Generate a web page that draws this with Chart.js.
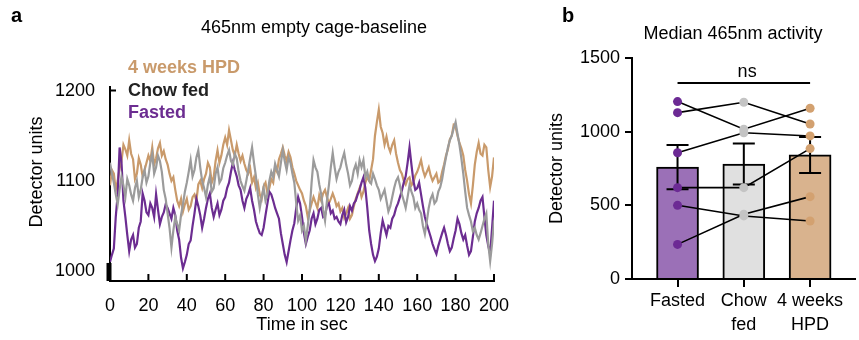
<!DOCTYPE html>
<html>
<head>
<meta charset="utf-8">
<script src="https://cdn.jsdelivr.net/npm/chart.js@4.4.1/dist/chart.umd.min.js"></script>
<style>
  html, body { margin: 0; padding: 0; background: #fff; }
  #wrap { position: relative; width: 859px; height: 340px; overflow: hidden; }
  #left { position: absolute; left: 0; top: 0; width: 530px; height: 340px; }
  #right { position: absolute; left: 530px; top: 0; width: 329px; height: 340px; }
</style>
</head>
<body>
<div id="wrap">
  <canvas id="left" width="530" height="340"></canvas>
  <canvas id="right" width="329" height="340"></canvas>
</div>
<script>
const FONT = "'Liberation Sans', Arial, sans-serif";
Chart.defaults.font.family = FONT;
Chart.defaults.font.size = 18;
Chart.defaults.color = "#000";

// ---- panel a: traces, one value per second ----
const timeSec = [
  0, 1, 2, 3, 4, 5, 6, 7, 8, 9, 10, 11, 12, 13, 14, 15, 16, 17, 18, 19,
  20, 21, 22, 23, 24, 25, 26, 27, 28, 29, 30, 31, 32, 33, 34, 35, 36, 37, 38, 39,
  40, 41, 42, 43, 44, 45, 46, 47, 48, 49, 50, 51, 52, 53, 54, 55, 56, 57, 58, 59,
  60, 61, 62, 63, 64, 65, 66, 67, 68, 69, 70, 71, 72, 73, 74, 75, 76, 77, 78, 79,
  80, 81, 82, 83, 84, 85, 86, 87, 88, 89, 90, 91, 92, 93, 94, 95, 96, 97, 98, 99,
  100, 101, 102, 103, 104, 105, 106, 107, 108, 109, 110, 111, 112, 113, 114, 115, 116, 117, 118, 119,
  120, 121, 122, 123, 124, 125, 126, 127, 128, 129, 130, 131, 132, 133, 134, 135, 136, 137, 138, 139,
  140, 141, 142, 143, 144, 145, 146, 147, 148, 149, 150, 151, 152, 153, 154, 155, 156, 157, 158, 159,
  160, 161, 162, 163, 164, 165, 166, 167, 168, 169, 170, 171, 172, 173, 174, 175, 176, 177, 178, 179,
  180, 181, 182, 183, 184, 185, 186, 187, 188, 189, 190, 191, 192, 193, 194, 195, 196, 197, 198, 199, 200
];
const hpd = [
  1095, 1112, 1108, 1090, 1100, 1114, 1122, 1140, 1135, 1128, 1145, 1130, 1124, 1102, 1108, 1125, 1118, 1105, 1112, 1120,
  1128, 1122, 1137, 1118, 1125, 1136, 1142, 1128, 1133, 1124, 1118, 1108, 1100, 1104, 1090, 1078, 1072, 1080, 1066, 1074,
  1080, 1068, 1072, 1082, 1085, 1078, 1096, 1100, 1092, 1102, 1108, 1120, 1115, 1098, 1104, 1122, 1134, 1120, 1128, 1140,
  1148, 1140, 1156, 1145, 1134, 1128, 1140, 1130, 1122, 1128, 1119, 1112, 1108, 1114, 1098, 1104, 1092, 1098, 1085, 1080,
  1094, 1098, 1086, 1092, 1102, 1098, 1115, 1110, 1124, 1130, 1137, 1128, 1122, 1132, 1126, 1115, 1108, 1100, 1095, 1090,
  1086, 1078, 1072, 1060, 1067, 1075, 1082, 1076, 1070, 1084, 1078, 1086, 1090, 1082, 1075, 1080, 1086, 1080, 1072, 1075,
  1066, 1070, 1059, 1064, 1070, 1058, 1062, 1072, 1080, 1086, 1092, 1082, 1088, 1098, 1104, 1100, 1112, 1124, 1150, 1165,
  1179, 1160, 1153, 1140, 1149, 1138, 1132, 1140, 1145, 1130, 1120, 1112, 1108, 1100, 1096, 1102, 1104, 1095, 1098, 1106,
  1110, 1116, 1123, 1112, 1105, 1110, 1115, 1106, 1100, 1104, 1108, 1098, 1100, 1110, 1118, 1128, 1135, 1146, 1150, 1162,
  1160, 1150, 1142, 1136, 1128, 1112, 1100, 1085, 1075, 1095, 1118, 1132, 1142, 1130, 1128, 1140, 1137, 1112, 1093, 1105, 1126
];
const chowFed = [
  1120, 1108, 1098, 1085, 1074, 1090, 1105, 1095, 1082, 1102, 1095, 1085, 1078, 1092, 1100, 1082, 1090, 1104, 1112, 1098,
  1105, 1120, 1130, 1108, 1115, 1128, 1122, 1110, 1090, 1080, 1064, 1048, 1026, 1045, 1060, 1052, 1045, 1062, 1074, 1088,
  1098, 1110, 1123, 1105, 1112, 1126, 1134, 1115, 1100, 1092, 1082, 1096, 1105, 1088, 1092, 1108, 1115, 1098, 1102, 1114,
  1120, 1128, 1134, 1122, 1118, 1130, 1125, 1110, 1100, 1094, 1089, 1100, 1112, 1125, 1137, 1120, 1105, 1085, 1070, 1082,
  1092, 1078, 1085, 1100, 1110, 1104, 1119, 1112, 1105, 1120, 1134, 1122, 1112, 1126, 1120, 1108, 1098, 1075, 1056, 1062,
  1045, 1050, 1034, 1050, 1068, 1098, 1123, 1115, 1110, 1096, 1085, 1068, 1056, 1078, 1095, 1115, 1131, 1115, 1102, 1110,
  1115, 1124, 1131, 1118, 1108, 1095, 1100, 1112, 1118, 1108, 1123, 1115, 1123, 1104, 1110, 1100, 1097, 1108, 1102, 1095,
  1090, 1080, 1085, 1090, 1078, 1066, 1072, 1082, 1092, 1100, 1104, 1095, 1085, 1078, 1070, 1082, 1095, 1088, 1082, 1070,
  1075, 1068, 1064, 1050, 1041, 1055, 1070, 1080, 1085, 1075, 1078, 1088, 1093, 1102, 1115, 1126, 1137, 1145, 1150, 1158,
  1165, 1152, 1140, 1125, 1108, 1088, 1070, 1062, 1055, 1044, 1048, 1040, 1035, 1042, 1050, 1058, 1064, 1030, 1011, 1030, 1056
];
const fasted = [
  1010, 1018, 1025, 1060, 1085, 1137, 1120, 1078, 1060, 1040, 1022, 1035, 1040, 1026, 1030, 1048, 1055, 1086, 1078, 1065,
  1062, 1075, 1070, 1060, 1085, 1068, 1052, 1060, 1065, 1074, 1070, 1064, 1058, 1070, 1062, 1045, 1035, 1015, 1003, 1010,
  1018, 1030, 1034, 1050, 1064, 1080, 1072, 1062, 1048, 1058, 1070, 1080, 1086, 1070, 1060, 1068, 1075, 1062, 1068, 1078,
  1082, 1092, 1098, 1110, 1120, 1112, 1105, 1095, 1090, 1078, 1070, 1080, 1085, 1092, 1078, 1068, 1055, 1048, 1042, 1040,
  1048, 1062, 1075, 1088, 1085, 1078, 1070, 1064, 1058, 1042, 1030, 1018, 1010, 1022, 1034, 1045, 1053, 1070, 1082, 1075,
  1060, 1042, 1030, 1038, 1045, 1058, 1064, 1052, 1058, 1068, 1070, 1060, 1062, 1072, 1075, 1064, 1067, 1058, 1060, 1055,
  1052, 1062, 1068, 1054, 1060, 1072, 1067, 1075, 1078, 1085, 1090, 1098, 1104, 1092, 1070, 1045, 1030, 1018, 1011, 1016,
  1025, 1042, 1056, 1048, 1040, 1050, 1048, 1058, 1062, 1070, 1075, 1082, 1089, 1098, 1105, 1120, 1137, 1118, 1100, 1090,
  1092, 1098, 1085, 1072, 1060, 1052, 1045, 1038, 1030, 1024, 1019, 1028, 1035, 1042, 1048, 1040, 1030, 1022, 1026, 1036,
  1045, 1058, 1052, 1042, 1035, 1040, 1028, 1018, 1022, 1038, 1055, 1064, 1070, 1078, 1082, 1060, 1040, 1028, 1019, 1048, 1078
];
const timeTicks = [0, 20, 40, 60, 80, 100, 120, 140, 160, 180, 200];
const traceTicks = [1000, 1100, 1200];

// ---- panel b: medians ----
const groups = ["Fasted", ["Chow", "fed"], ["4 weeks", "HPD"]];
const groupX = [0, 1, 2];
const barMeans = [760, 780, 842];
const barSem = [150, 139, 122];
const subjects = [
  [1129, 1200, 1052],
  [1204, 1017, 1159],
  [857, 993, 971],
  [620, 620, 885],
  [500, 428, 394],
  [235, 440, 559]
];
const medianTicks = [0, 500, 1000, 1500];

const TAN = "#c99a6b", GRAY = "#9b9b9b", PURPLE = "#6c2d91";
const barFill = ["#9b70b7", "#e0e0e0", "#d9b38e"];
const dotFill = ["#6c2a94", "#c4c4c4", "#d3a170"];

function pts(vals) {
  return timeSec.map((t, i) => ({ x: t, y: vals[i] }));
}

const leftDecor = {
  id: "leftDecor",
  afterDraw(chart) {
    const ctx = chart.ctx;
    const x = chart.scales.x, y = chart.scales.y;
    ctx.save();
    ctx.fillStyle = "#000";
    ctx.textBaseline = "middle";
    ctx.font = "bold 20px " + FONT;
    ctx.textAlign = "left";
    ctx.fillText("a", 11, 16);
    ctx.font = "18px " + FONT;
    ctx.textAlign = "center";
    ctx.fillText("465nm empty cage-baseline", 314, 28);
    // legend
    ctx.textAlign = "left";
    ctx.font = "bold 18px " + FONT;
    ctx.fillStyle = TAN; ctx.fillText("4 weeks HPD", 128, 68);
    ctx.fillStyle = "#222"; ctx.fillText("Chow fed", 128, 91);
    ctx.fillStyle = PURPLE; ctx.fillText("Fasted", 128, 113);
    // y title
    ctx.fillStyle = "#000";
    ctx.font = "18px " + FONT;
    ctx.translate(37, 172);
    ctx.rotate(-Math.PI / 2);
    ctx.textAlign = "center";
    ctx.fillText("Detector units", 0, 0);
    ctx.restore();
    // inner x ticks, top y tick, thick stub at the base of the y axis
    ctx.save();
    ctx.strokeStyle = "#000";
    ctx.lineWidth = 2;
    ctx.beginPath();
    const yb = x.top;
    timeTicks.forEach(t => {
      const px = x.getPixelForValue(t);
      ctx.moveTo(px, yb);
      ctx.lineTo(px, yb - 7);
    });
    const yt = y.getPixelForValue(1200);
    ctx.moveTo(y.right, yt);
    ctx.lineTo(y.right + 6, yt);
    ctx.stroke();
    ctx.lineWidth = 5;
    ctx.beginPath();
    ctx.moveTo(y.right - 1, y.getPixelForValue(1009));
    ctx.lineTo(y.right - 1, yb);
    ctx.stroke();
    ctx.restore();
  }
};

new Chart(document.getElementById("left"), {
  type: "line",
  data: {
    datasets: [
      { label: "Chow fed", data: pts(chowFed), borderColor: GRAY, order: 0 },
      { label: "Fasted", data: pts(fasted), borderColor: PURPLE, order: 1 },
      { label: "4 weeks HPD", data: pts(hpd), borderColor: TAN, order: 2 }
    ]
  },
  options: {
    responsive: false,
    animation: false,
    layout: { padding: { top: 87, right: 36, left: 0, bottom: 0 } },
    elements: { point: { radius: 0 }, line: { borderWidth: 2.2, tension: 0 } },
    plugins: { legend: { display: false }, tooltip: { enabled: false } },
    scales: {
      x: {
        type: "linear", min: 0, max: 200,
        afterBuildTicks: s => { s.ticks = timeTicks.map(v => ({ value: v })); },
        afterFit: s => { s.height = 59; },
        grid: { display: false },
        border: { display: true, color: "#000", width: 2 },
        ticks: { padding: 6, maxRotation: 0, autoSkip: false, callback: v => String(v) },
        title: { display: true, text: "Time in sec", padding: { top: 0, bottom: 4 } }
      },
      y: {
        min: 989, max: 1204,
        afterBuildTicks: s => { s.ticks = traceTicks.map(v => ({ value: v })); },
        afterFit: s => { s.width = 110; },
        grid: { display: false },
        border: { display: true, color: "#000", width: 2 },
        ticks: { padding: 7, callback: v => String(v) }
      }
    }
  },
  plugins: [leftDecor]
});

const rightDecor = {
  id: "rightDecor",
  afterDatasetDraw(chart, args) {
    if (args.index !== 0) return;
    const ctx = chart.ctx;
    const x = chart.scales.x, y = chart.scales.y;
    ctx.save();
    ctx.strokeStyle = "#000";
    ctx.lineWidth = 2;
    ctx.beginPath();
    groupX.forEach((g, i) => {
      const px = x.getPixelForValue(g);
      const hi = y.getPixelForValue(barMeans[i] + barSem[i]);
      const lo = y.getPixelForValue(barMeans[i] - barSem[i]);
      ctx.moveTo(px, hi); ctx.lineTo(px, lo);
      ctx.moveTo(px - 11, hi); ctx.lineTo(px + 11, hi);
      ctx.moveTo(px - 11, lo); ctx.lineTo(px + 11, lo);
    });
    ctx.stroke();
    ctx.restore();
  },
  afterDraw(chart) {
    const ctx = chart.ctx;
    const x = chart.scales.x, y = chart.scales.y;
    ctx.save();
    ctx.fillStyle = "#000";
    ctx.textBaseline = "middle";
    ctx.font = "bold 20px " + FONT;
    ctx.textAlign = "left";
    ctx.fillText("b", 32, 16);
    ctx.font = "18px " + FONT;
    ctx.textAlign = "center";
    ctx.fillText("Median 465nm activity", 203, 34);
    // ns bracket
    const yl = y.getPixelForValue(1331);
    ctx.strokeStyle = "#000";
    ctx.lineWidth = 2;
    ctx.beginPath();
    ctx.moveTo(x.getPixelForValue(0), yl);
    ctx.lineTo(x.getPixelForValue(2), yl);
    ctx.stroke();
    ctx.fillText("ns", x.getPixelForValue(1.05), yl - 11);
    ctx.restore();
  }
};

new Chart(document.getElementById("right"), {
  type: "bar",
  data: {
    datasets: [
      {
        type: "bar",
        data: groupX.map((g, i) => ({ x: g, y: barMeans[i] })),
        backgroundColor: barFill,
        borderColor: "#000",
        borderWidth: 2,
        barThickness: 42,
        order: 10
      },
      ...subjects.map(s => ({
        type: "line",
        data: s.map((v, i) => ({ x: groupX[i], y: v })),
        borderColor: "#000",
        borderWidth: 1.6,
        pointRadius: 4.5,
        pointBorderWidth: 0,
        pointBackgroundColor: dotFill,
        order: 1
      }))
    ]
  },
  options: {
    responsive: false,
    animation: false,
    layout: { padding: { top: 58, right: 2, left: 0, bottom: 0 } },
    plugins: { legend: { display: false }, tooltip: { enabled: false } },
    scales: {
      x: {
        type: "linear", min: -0.687, max: 2.67, offset: false,
        afterBuildTicks: s => { s.ticks = groupX.map(v => ({ value: v })); },
        afterFit: s => { s.height = 61; },
        grid: { display: true, offset: false, drawOnChartArea: false, drawTicks: true, tickLength: 8, color: "#000", lineWidth: 2 },
        border: { display: true, color: "#000", width: 2 },
        ticks: { callback: v => groups[v], font: { size: 18, lineHeight: 1.28 }, padding: 3, autoSkip: false, maxRotation: 0 }
      },
      y: {
        min: 0, max: 1500,
        afterBuildTicks: s => { s.ticks = medianTicks.map(v => ({ value: v })); },
        afterFit: s => { s.width = 102; },
        grid: { display: true, drawOnChartArea: false, drawTicks: true, tickLength: 7, color: "#000", lineWidth: 2 },
        border: { display: true, color: "#000", width: 2 },
        ticks: { padding: 5, callback: v => String(v) },
        title: { display: true, text: "Detector units", padding: { top: 16, bottom: 0 } }
      }
    }
  },
  plugins: [rightDecor]
});
</script>
</body>
</html>
